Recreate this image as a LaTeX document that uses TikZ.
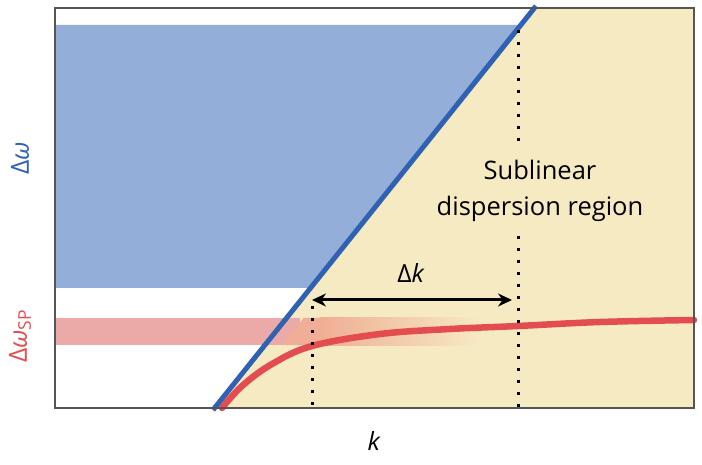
\documentclass[tikz,border=0pt]{standalone}
\usepackage{fontspec}
\setmainfont{Open Sans}
\usetikzlibrary{arrows.meta}
\definecolor{bfill}{HTML}{93AED9}
\definecolor{bline}{HTML}{2F62B2}
\definecolor{yel}{HTML}{F6EAC3}
\definecolor{rline}{HTML}{E34D4F}
\definecolor{rbandw}{HTML}{EBAAA8}
\definecolor{rbandy}{HTML}{EFAE95}
\definecolor{frame}{HTML}{555555}
\tikzset{dots/.style={line width=3pt,dash pattern=on 3pt off 9pt},
lbl/.style={font=\fontsize{25}{27}\selectfont}}
\begin{document}
\begin{tikzpicture}[x=1pt,y=-1pt]
\useasboundingbox (0,0) rectangle (702,465);
\fill[yel] (213,408) -- (535,8) -- (694,8) -- (694,408) -- cycle;
\fill[bfill] (55,25) -- (521.3,25) -- (309.6,288) -- (55,288) -- cycle;
\fill[rbandw] (55,318) rectangle (300,345);
\fill[rbandy] (282,345) -- (303.6,318) -- (320,318) -- (320,345) -- cycle;
\shade[left color=rbandy,right color=yel] (319.5,318) rectangle (480,345);
\draw[rline,line width=6.5pt,line cap=round] plot[smooth,tension=0.6] coordinates {(222,408) (242,386) (272,364) (312,346) (380,334) (450,329) (518,326) (600,322) (694,320)};
\draw[bline,line width=5pt] (213,410) -- (536,6);
\coordinate (a1) at (312,300); \coordinate (a2) at (512,300);
\draw[dots] (312,306) -- (312,408);
\draw[dots] (518,30) -- (518,142);
\draw[dots] (518,236) -- (518,408);
\draw[line width=3pt,{Stealth[length=14pt,width=13pt]}-{Stealth[length=14pt,width=13pt]}] (a1) -- (a2);
\node[lbl] (dk) at (411,273) {Δ\textit{k}};
\node[lbl,align=center,font=\fontsize{25.5}{36}\selectfont] (sub) at (540,191) {Sublinear\\dispersion region};
\draw[frame,line width=1.8pt] (55,8) rectangle (694,408);
\node[lbl] (k) at (374,441) {\textit{k}};
\node[lbl,text=bline,rotate=90] (dw) at (20,158) {Δ\textit{ω}};
\node[lbl,text=rline,rotate=90] (dws) at (20,336) {Δ\textit{ω}\textsubscript{SP}};
\end{tikzpicture}
\end{document}
